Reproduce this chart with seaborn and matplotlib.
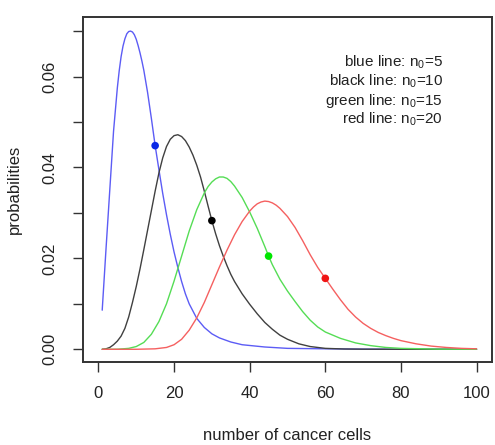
import numpy as np
import pandas as pd
import matplotlib
matplotlib.use("Agg")
import matplotlib.pyplot as plt
import seaborn as sns

# ---- data ----
blue_x = [1, 2, 3, 4, 5, 5.5, 6, 6.5, 7, 7.5, 8, 8.5, 9, 9.5, 10, 10.5, 11, 11.5, 12, 13,
          14, 15, 16, 17, 18, 19, 20, 21, 22, 23, 24, 26, 28, 30, 32, 35, 38, 44, 50, 60,
          70, 80, 90, 100]
blue_y = [0.0086, 0.022, 0.035, 0.048, 0.0575, 0.0613, 0.0644, 0.0667, 0.0683, 0.0694,
          0.0699, 0.0700, 0.0698, 0.0692, 0.0682, 0.0668, 0.0652, 0.0634, 0.0614, 0.0565,
          0.0508, 0.0448, 0.0395, 0.0343, 0.0296, 0.0253, 0.0214, 0.0180, 0.0149, 0.0122,
          0.0100, 0.0068, 0.0048, 0.0034, 0.0025, 0.0016, 0.0010, 0.0005,
          0.0002, 0.0001, 0.00003, 0.00001, 0.0, 0.0]

black_x = list(range(1, 37)) + [38, 40, 42, 44, 46, 48, 50, 53, 56, 60, 65, 70, 80, 90, 100]
black_y = [0.0000, 0.0001, 0.0004, 0.0010, 0.0018, 0.0029, 0.0046, 0.0071, 0.0103, 0.0138,
           0.0177, 0.0219, 0.0262, 0.0305, 0.0348, 0.0388, 0.0421, 0.0446, 0.0462, 0.0470,
           0.0472, 0.0468, 0.0459, 0.0445, 0.0427, 0.0405, 0.0379, 0.0348, 0.0315, 0.0283,
           0.0254, 0.0228, 0.0205, 0.0184, 0.0165, 0.0149,
           0.0122, 0.0099, 0.0078, 0.0059, 0.0044, 0.0031, 0.0022, 0.0012, 0.0006, 0.0002,
           0.00006, 0.00002, 0.0, 0.0, 0.0]

green_x = [1, 5, 8, 10, 12, 14, 16, 18, 20, 22, 24, 26, 28, 29, 30, 31, 32, 33, 34, 35,
           36, 38, 40, 42, 44, 45, 46, 48, 50, 52, 54, 56, 58, 60, 64, 68, 72, 76, 80, 90, 100]
green_y = [0.0, 0.0, 0.0002, 0.0006, 0.0015, 0.0033, 0.0061, 0.0100, 0.0150, 0.0205,
           0.0260, 0.0307, 0.0344, 0.0358, 0.0368, 0.0375, 0.0379, 0.0379, 0.0376, 0.0369,
           0.0359, 0.0334, 0.0302, 0.0266, 0.0226, 0.0205, 0.0186, 0.0154, 0.0128, 0.0105,
           0.0083, 0.0064, 0.0049, 0.0038, 0.0024, 0.0014, 0.0008, 0.0004, 0.0002, 0.00003, 0.0]

red_x = [1, 10, 15, 18, 20, 22, 24, 26, 28, 30, 32, 34, 36, 38, 40, 41, 42, 43, 44, 45,
         46, 47, 48, 50, 52, 54, 56, 58, 60, 62, 64, 66, 68, 70, 72, 74, 76, 78, 80, 84,
         88, 92, 96, 100]
red_y = [0.0, 0.0, 0.0001, 0.0004, 0.0010, 0.0022, 0.0042, 0.0069, 0.0103, 0.0142,
         0.0181, 0.0218, 0.0252, 0.0281, 0.0304, 0.0313, 0.0320, 0.0324, 0.0326, 0.0325,
         0.0322, 0.0317, 0.0310, 0.0292, 0.0268, 0.0239, 0.0208, 0.0180, 0.0156, 0.0132,
         0.0109, 0.0088, 0.0071, 0.0057, 0.0046, 0.0037, 0.0030, 0.0024, 0.0019, 0.0012,
         0.0007, 0.0004, 0.0002, 0.0001]

point_x = [15, 30, 45, 60]
point_y = [0.0448, 0.0283, 0.0205, 0.0156]

legend_lines = [r"blue line: $\mathregular{n_0}$=5",
                r"black line: $\mathregular{n_0}$=10",
                r"green line: $\mathregular{n_0}$=15",
                r"red line: $\mathregular{n_0}$=20"]

x_ticks = [0, 20, 40, 60, 80, 100]
x_tick_labels = ["0", "20", "40", "60", "80", "100"]
y_major = [0.00, 0.02, 0.04, 0.06]
y_major_labels = ["0.00", "0.02", "0.04", "0.06"]
y_minor = [0.01, 0.03, 0.05, 0.07]

line_colors = ["#5c5cf5", "#404040", "#55dd55", "#f56060"]
point_colors = ["#0a28e6", "#000000", "#00e600", "#f01414"]

# ---- figure ----
sns.set_style("white")
plt.rcParams["font.family"] = ["Liberation Sans", "DejaVu Sans"]
plt.rcParams["mathtext.fontset"] = "custom"
plt.rcParams["mathtext.rm"] = "Liberation Sans"

fig = plt.figure(figsize=(4.95, 4.45), dpi=100)
ax = fig.add_axes([83.3 / 495, 1 - 362 / 445, (491.7 - 83.3) / 495, (362 - 17) / 445])

series = [(blue_x, blue_y), (black_x, black_y), (green_x, green_y), (red_x, red_y)]
for (xs, ys), col in zip(series, line_colors):
    df = pd.DataFrame({"x": xs, "y": ys})
    sns.lineplot(data=df, x="x", y="y", ax=ax, color=col, linewidth=1.0, estimator=None)

pts = pd.DataFrame({"x": point_x, "y": point_y, "c": ["b", "k", "g", "r"]})
sns.scatterplot(data=pts, x="x", y="y", hue="c", palette=point_colors, s=30,
                edgecolor="none", legend=False, ax=ax, zorder=5)

ax.set_xlim(-4, 104)
ax.set_ylim(-0.0028, 0.0731)

ax.set_xticks(x_ticks)
ax.set_xticklabels(x_tick_labels)
ax.set_yticks(y_major)
ax.set_yticklabels(y_major_labels, rotation=90, va="center")
ax.set_yticks(y_minor, minor=True)

for s in ax.spines.values():
    s.set_visible(True)
    s.set_color("#333333")
    s.set_linewidth(1.4)

ax.tick_params(axis="both", which="both", direction="out", length=7.5, width=1.0,
               color="#333333", labelsize=12, labelcolor="#222222")
ax.tick_params(axis="x", pad=10)
ax.tick_params(axis="y", pad=11)
ax.tick_params(axis="y", which="minor", left=True)
ax.tick_params(left=True, bottom=True)

ax.set_xlabel("number of cancer cells", fontsize=12, color="#222222", labelpad=19)
ax.set_ylabel("probabilities", fontsize=12, color="#222222", labelpad=15)

ys_txt = [0.870, 0.8125, 0.7565, 0.7035]
for t, yy in zip(legend_lines, ys_txt):
    ax.text(0.881, yy, t, transform=ax.transAxes, ha="right", va="center",
            fontsize=11, color="#222222")

fig.savefig("out.png", dpi=100)
